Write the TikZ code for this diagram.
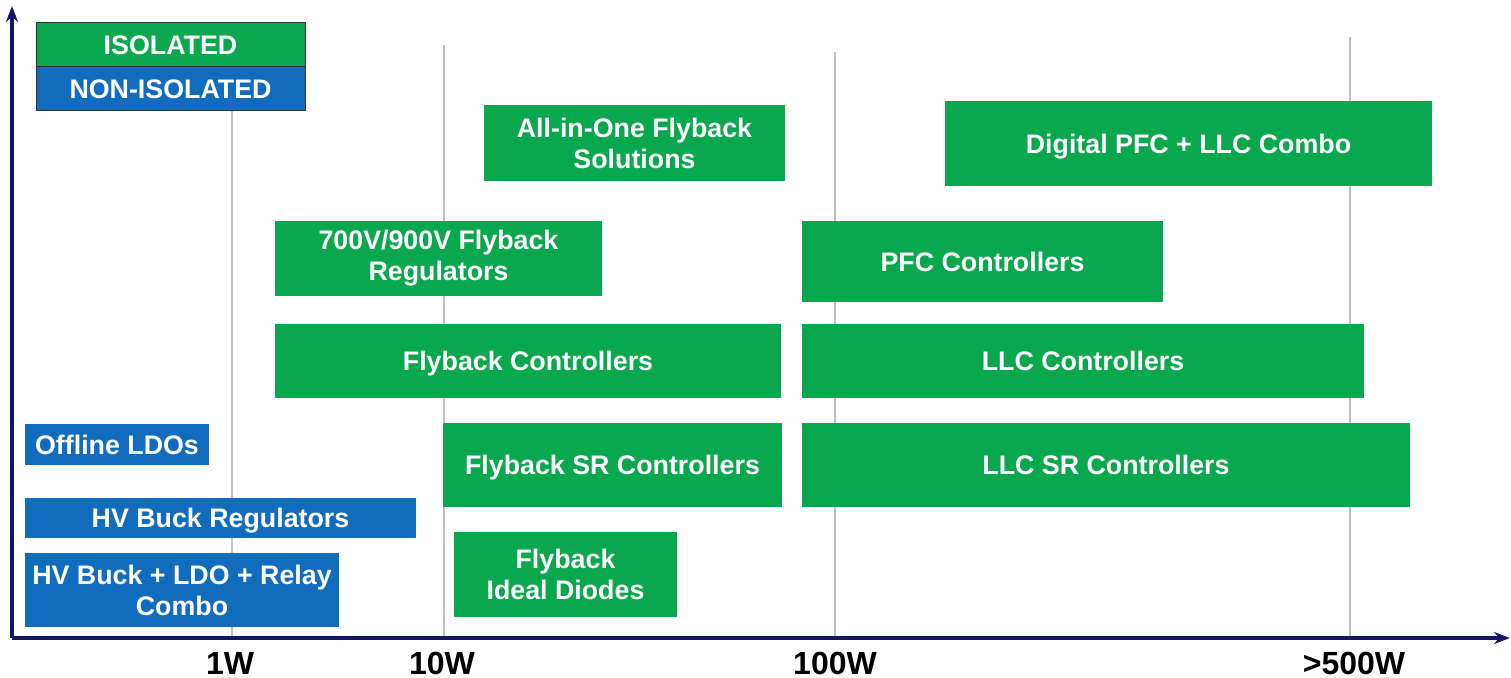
\documentclass[tikz,border=0pt]{standalone}
\usepackage{fontspec}
\setmainfont{Liberation Sans}
\usetikzlibrary{arrows.meta}

\definecolor{isogreen}{RGB}{10,168,78}
\definecolor{nonblue}{RGB}{18,108,190}
\definecolor{axisnavy}{RGB}{22,22,100}
\definecolor{gridgray}{RGB}{192,192,192}

\tikzset{
  pbox/.style 2 args={inner sep=0pt, align=center, text=white,
    minimum width=#1*0.5pt, minimum height=#2*0.5pt,
    font=\fontsize{13.4}{15.5}\selectfont\bfseries},
  isobox/.style 2 args={pbox={#1}{#2}, fill=isogreen},
  nonbox/.style 2 args={pbox={#1}{#2}, fill=nonblue},
  oneline/.style={text depth=0pt},
  legendbox/.style={draw=black!80, line width=0.5pt},
  wlabel/.style={font=\fontsize{16}{18}\selectfont\bfseries, text=black},
  gridline/.style={draw=gridgray, line width=1pt}
}

\begin{document}
\begin{tikzpicture}[x=0.5pt, y=-0.5pt]
  \useasboundingbox (0,0) rectangle (1511,678);

  % power grid
  \node[wlabel] (w1) at (230,663) {1W};
  \node[wlabel] (w10) at (442,663) {10W};
  \node[wlabel] (w100) at (835,663) {100W};
  \node[wlabel] (w500) at (1354,663) {>500W};
  \draw[gridline] (232,111) -- (232,636);
  \draw[gridline] (444,45) -- (444,636);
  \draw[gridline] (835,52) -- (835,636);
  \draw[gridline] (1350,37) -- (1350,636);

  % axes
  \coordinate (origin) at (12,638);
  \draw[axisnavy, line width=1.6pt, -{Stealth[length=8pt,width=6pt]}] (origin) -- (12,6);
  \draw[axisnavy, line width=1.6pt, -{Stealth[length=8pt,width=6pt]}] (origin) -- (1510,638);

  % legend
  \node[isobox={269}{44}, oneline, legendbox] (iso) at (170.5,45) {ISOLATED};
  \node[nonbox={269}{44}, oneline, legendbox] (noniso) at (170.5,89) {NON-ISOLATED};

  % isolated
  \node[isobox={301}{76}] (aio) at (634.5,143) {All-in-One Flyback\\Solutions};
  \node[isobox={487}{85}, oneline] (dpfc) at (1188.5,143.5) {Digital PFC + LLC Combo};
  \node[isobox={327}{75}] (flyreg) at (438.5,258.5) {700V/900V Flyback\\Regulators};
  \node[isobox={361}{81}, oneline] (pfc) at (982.5,261.5) {PFC Controllers};
  \node[isobox={506}{74}, oneline] (flyctl) at (528,361) {Flyback Controllers};
  \node[isobox={562}{74}, oneline] (llc) at (1083,361) {LLC Controllers};
  \node[isobox={339}{84}, oneline] (flysr) at (612.5,465) {Flyback SR Controllers};
  \node[isobox={608}{84}, oneline] (llcsr) at (1106,465) {LLC SR Controllers};
  \node[isobox={223}{85}] (flyid) at (565.5,574.5) {Flyback\\Ideal Diodes};

  % non-isolated
  \node[nonbox={184}{41}, oneline] (ldo) at (117,444.5) {Offline LDOs};
  \node[nonbox={391}{40}, oneline] (hvbuck) at (220.5,518) {HV Buck Regulators};
  \node[nonbox={314}{74}] (combo) at (182,590) {HV Buck + LDO + Relay\\Combo};
\end{tikzpicture}
\end{document}
